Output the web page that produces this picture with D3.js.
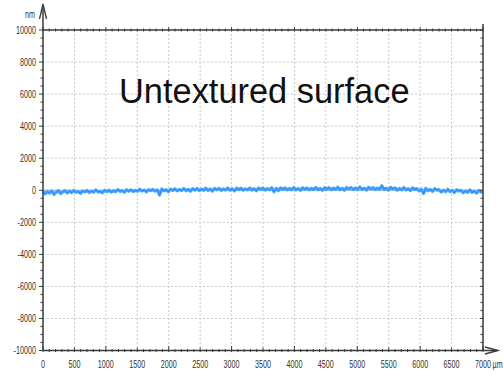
<!DOCTYPE html>
<html>
<head>
<meta charset="utf-8">
<script src="https://cdn.jsdelivr.net/npm/d3@7"></script>
<style>
  html, body { margin: 0; padding: 0; background: #fff; }
  svg { display: block; }
  .tick-label { font-family: "Liberation Sans", Arial, sans-serif; font-size: 10px; fill: #333; }
</style>
</head>
<body>
<svg id="chart" width="503" height="374"></svg>
<script>
// Profile samples: position step in µm and measured heights in nm
const stepUm = 35;
const heightsNm = [
  -60,-220,-90,-180,-40,-260,-120,-20,-200,-110,
  -30,-170,-60,-150,-10,-130,-90,-190,-40,-100,
  -10,-140,-50,-120,20,-100,-70,-160,0,-90,
  10,-110,-30,-90,40,-70,-20,-130,30,-60,
  30,-80,-10,-60,60,-50,10,-100,40,-30,
  50,-60,20,-300,80,-40,30,-90,70,-10,
  90,-40,50,-20,110,-30,60,-60,100,10,
  110,-20,70,0,130,-10,80,-50,120,30,
  120,-10,80,10,140,0,90,-40,130,40,
  130,0,90,20,150,10,100,-30,140,50,
  140,10,100,30,160,-100,110,-20,150,60,
  150,20,110,30,170,20,110,-10,160,60,
  150,20,120,40,180,30,110,-10,160,70,
  160,30,130,50,190,40,120,0,170,80,
  170,40,140,60,200,50,130,10,180,90,
  170,40,140,60,280,50,130,10,180,90,
  150,10,110,30,170,20,100,-20,150,60,
  100,-40,60,-200,120,-30,50,-70,100,10,
  40,-110,0,-80,60,-90,-10,-140,30,-50,
  0,-160,-40,-130,20,-130,-50,-180,-10,-100,-120
];
const xTicks = [0,500,1000,1500,2000,2500,3000,3500,4000,4500,5000,5500,6000,6500,7000];
const yTicks = [-10000,-8000,-6000,-4000,-2000,0,2000,4000,6000,8000,10000];
const titleText = "Untextured surface";
const xUnit = "µm";
const yUnit = "nm";

const svg = d3.select("#chart");
const plotL = 43, plotR = 483, plotT = 30, plotB = 350.5;
const x = d3.scaleLinear().domain([0, 7000]).range([plotL, plotR]);
const y = d3.scaleLinear().domain([-10000, 10000]).range([plotB, plotT]);
const axisColor = "#3a3a3a";
const narrow = 0.72; // horizontal squeeze for the condensed tick labels

// dotted grid
const grid = svg.append("g");
grid.selectAll("line.v").data(xTicks.filter(d => d > 0 && d < 7000)).join("line")
  .attr("class", "v")
  .attr("x1", d => x(d)).attr("x2", d => x(d))
  .attr("y1", plotT).attr("y2", plotB)
  .attr("stroke", "#c8c8c8").attr("stroke-width", 1).attr("stroke-dasharray", "2,2");
grid.selectAll("line.h").data(yTicks.filter(d => d > -10000 && d < 10000 && d !== 0)).join("line")
  .attr("class", "h")
  .attr("x1", plotL).attr("x2", plotR)
  .attr("y1", d => y(d)).attr("y2", d => y(d))
  .attr("stroke", "#c8c8c8").attr("stroke-width", 1).attr("stroke-dasharray", "2,2");

// title
svg.append("text")
  .attr("x", 119).attr("y", 103)
  .attr("font-family", "Liberation Sans, Arial, sans-serif")
  .attr("font-size", 34.4)
  .attr("fill", "#111")
  .text(titleText);

// zero reference line
svg.append("line")
  .attr("x1", plotL).attr("x2", plotR)
  .attr("y1", y(0)).attr("y2", y(0))
  .attr("stroke", "#1d3f66").attr("stroke-width", 0.8).attr("opacity", 0.6);

// profile trace
const data = heightsNm.map((v, i) => [i * stepUm, v]);
const line = d3.line().x(d => x(d[0])).y(d => y(d[1]));
svg.append("path").datum(data)
  .attr("d", line)
  .attr("fill", "none")
  .attr("stroke", "#4aa6ff")
  .attr("stroke-width", 3.2)
  .attr("stroke-linejoin", "round");
svg.append("path").datum(data)
  .attr("d", line)
  .attr("fill", "none")
  .attr("stroke", "#1c86ee")
  .attr("stroke-width", 0.9)
  .attr("opacity", 0.85);

// frame: top and right edges
svg.append("line").attr("x1", plotL).attr("x2", plotR).attr("y1", plotT).attr("y2", plotT)
  .attr("stroke", axisColor).attr("stroke-width", 1.5);
svg.append("line").attr("x1", plotR).attr("x2", plotR).attr("y1", 24).attr("y2", plotB)
  .attr("stroke", axisColor).attr("stroke-width", 1.5);

// axes with arrow heads
svg.append("line").attr("x1", plotL).attr("x2", plotL).attr("y1", plotB).attr("y2", 6)
  .attr("stroke", axisColor).attr("stroke-width", 1.5);
svg.append("path").attr("d", `M${plotL - 3.5},19 L${plotL},4 L${plotL + 3.5},19`)
  .attr("fill", "none").attr("stroke", axisColor).attr("stroke-width", 1.3);
svg.append("line").attr("x1", plotL).attr("x2", 497).attr("y1", plotB).attr("y2", plotB)
  .attr("stroke", axisColor).attr("stroke-width", 1.5);
svg.append("path").attr("d", `M485,${plotB - 3.5} L498,${plotB} L485,${plotB + 3.5}`)
  .attr("fill", "none").attr("stroke", axisColor).attr("stroke-width", 1.3);

// tick marks
const xMinor = d3.range(0, 7001, 100);
const yMinor = d3.range(-10000, 10001, 500);
const tk = svg.append("g").attr("stroke", axisColor).attr("stroke-width", 1);
xMinor.forEach(v => {
  const major = v % 1000 === 0, mid = v % 500 === 0;
  const len = major ? 4.5 : (mid ? 3 : 1.5);
  tk.append("line").attr("x1", x(v)).attr("x2", x(v)).attr("y1", plotB - len).attr("y2", plotB + 1.5);
  tk.append("line").attr("x1", x(v)).attr("x2", x(v)).attr("y1", plotT - (major ? 3 : 1.5)).attr("y2", plotT + 1.5);
});
yMinor.forEach(v => {
  const major = v % 2000 === 0;
  tk.append("line").attr("x1", plotL - (major ? 4 : 2.5)).attr("x2", plotL).attr("y1", y(v)).attr("y2", y(v));
  tk.append("line").attr("x1", plotR - (major ? 3 : 2.5)).attr("x2", plotR).attr("y1", y(v)).attr("y2", y(v));
});

// tick labels (squeezed horizontally)
svg.append("g").selectAll("text").data(yTicks).join("text")
  .attr("class", "tick-label")
  .attr("transform", d => `translate(36,${y(d) + 3.5}) scale(${narrow},1)`)
  .attr("text-anchor", "end")
  .text(d => d);
svg.append("g").selectAll("text").data(xTicks).join("text")
  .attr("class", "tick-label")
  .attr("transform", d => `translate(${x(d)},368) scale(${narrow},1)`)
  .attr("text-anchor", "middle")
  .text(d => d);
svg.append("text").attr("class", "tick-label")
  .attr("transform", `translate(492.5,368) scale(${narrow},1)`).text(xUnit);
svg.append("text").attr("class", "tick-label")
  .attr("transform", `translate(35,18) scale(${narrow},1)`)
  .attr("text-anchor", "end").attr("font-size", 9).text(yUnit);
</script>
</body>
</html>
